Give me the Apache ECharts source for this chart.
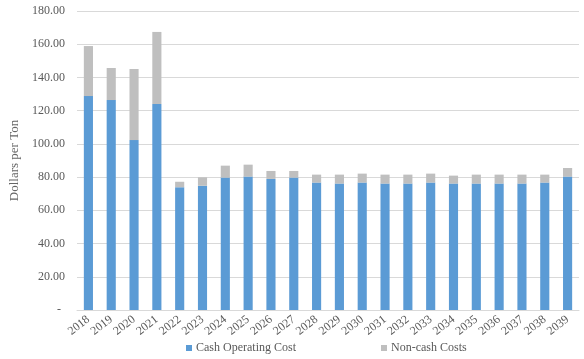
<!DOCTYPE html>
<html>
<head>
<meta charset="utf-8">
<script src="https://cdn.jsdelivr.net/npm/echarts@6/dist/echarts.min.js"></script>
<style>
html,body{margin:0;padding:0;background:#fff;}
#chart{width:584px;height:359px;}
</style>
</head>
<body>
<div id="chart"></div>
<script>
const years = ['2018','2019','2020','2021','2022','2023','2024','2025','2026','2027','2028','2029','2030','2031','2032','2033','2034','2035','2036','2037','2038','2039'];
const cashOperatingCost = [128.8,126.4,102.3,124.0,73.9,74.8,79.7,80.3,78.9,79.7,76.7,76.1,76.7,76.1,76.1,76.7,76.1,76.1,76.1,76.1,76.7,80.3];
const totalCost = [158.9,145.7,145.1,167.4,77.2,79.9,86.9,87.5,83.7,83.7,81.5,81.5,82.1,81.5,81.5,82.1,80.9,81.5,81.5,81.5,81.5,85.5];
const nonCashCosts = totalCost.map((t, i) => +(t - cashOperatingCost[i]).toFixed(1));

const font = 'Liberation Serif';
const textColor = '#595959';
const chart = echarts.init(document.getElementById('chart'));
chart.setOption({
  animation: false,
  textStyle: { fontFamily: font },
  grid: { left: 63, right: 5, top: 11, bottom: 49, containLabel: false },
  legend: {
    bottom: 0, left: 181,
    itemWidth: 6, itemHeight: 6, itemGap: 85,
    icon: 'rect',
    textStyle: { fontFamily: font, fontSize: 12, color: textColor, padding: [0, 0, 0, -1] },
    data: ['Cash Operating Cost', 'Non-cash Costs']
  },
  xAxis: {
    type: 'category',
    data: years,
    axisLine: { lineStyle: { color: '#D9D9D9' } },
    axisTick: { show: false },
    axisLabel: { rotate: 38, fontFamily: font, fontSize: 12, color: textColor, margin: 8, interval: 0 }
  },
  yAxis: {
    type: 'value',
    min: 0, max: 180, interval: 20,
    name: 'Dollars per Ton',
    nameLocation: 'middle',
    nameGap: 56,
    nameTextStyle: { fontFamily: font, fontSize: 13, color: '#666666' },
    axisLine: { show: false },
    axisTick: { show: false },
    splitLine: { lineStyle: { color: '#D9D9D9' } },
    axisLabel: {
      fontFamily: font, fontSize: 12, color: textColor, margin: 12,
      formatter: v => v === 0 ? '{z|-}' : v.toFixed(2),
      rich: { z: { fontFamily: font, fontSize: 12, color: textColor, padding: [0, 4, 0, 0] } }
    }
  },
  series: [
    { name: 'Cash Operating Cost', type: 'bar', stack: 'c', barWidth: '40%', data: cashOperatingCost, itemStyle: { color: '#5B9BD5' } },
    { name: 'Non-cash Costs', type: 'bar', stack: 'c', barWidth: '40%', data: nonCashCosts, itemStyle: { color: '#BFBFBF' } }
  ]
});
</script>
</body>
</html>
